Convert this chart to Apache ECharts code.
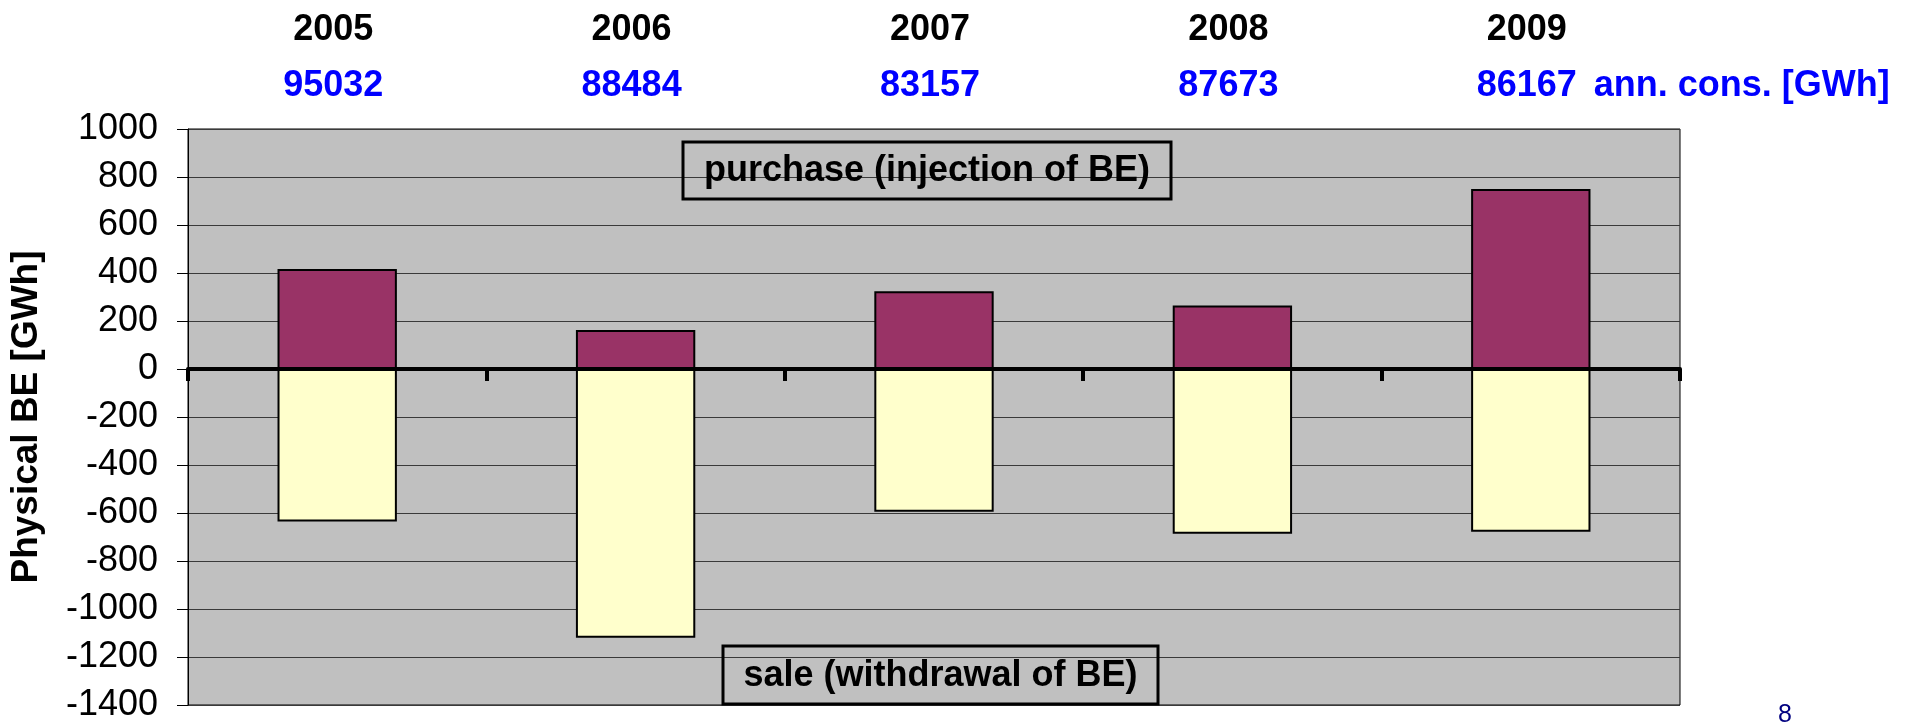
<!DOCTYPE html>
<html>
<head>
<meta charset="utf-8">
<title>Physical BE</title>
<script src="https://cdn.jsdelivr.net/npm/echarts@6.0.0/dist/echarts.min.js"></script>
<style>
  html, body { margin: 0; padding: 0; background: #ffffff; }
  #chart { width: 1919px; height: 723px; }
</style>
</head>
<body>
<div id="chart"></div>
<script>
// data
const years = ['2005', '2006', '2007', '2008', '2009'];
const annualCons = ['95032', '88484', '83157', '87673', '86167'];
const purchase = [417, 163, 324, 265, 750];
const sale = [-635, -1120, -595, -686, -678];
const yMin = -1400;
const yMax = 1000;
const yStep = 200;

const font = '"Liberation Sans", Arial, sans-serif';

let myChart = echarts.init(document.getElementById('chart'));

let option = {
  animation: false,
  grid: {
    left: 186,
    right: 239,
    top: 129,
    bottom: 14,
    show: true,
    backgroundColor: '#c0c0c0',
    borderColor: '#000000',
    borderWidth: 1
  },
  xAxis: {
    type: 'category',
    data: years,
    position: 'bottom',
    axisLine: {
      onZero: true,
      lineStyle: { color: '#000000', width: 4 }
    },
    axisTick: {
      show: true,
      alignWithLabel: false,
      length: 12,
      lineStyle: { color: '#000000', width: 4 }
    },
    axisLabel: { show: false },
    splitLine: { show: false }
  },
  yAxis: {
    type: 'value',
    min: yMin,
    max: yMax,
    interval: yStep,
    name: 'Physical BE [GWh]',
    nameLocation: 'middle',
    nameGap: 143,
    nameTextStyle: {
      color: '#000000',
      fontFamily: font,
      fontSize: 37,
      fontWeight: 'bold'
    },
    axisLine: { show: true, lineStyle: { color: '#000000', width: 1 } },
    axisTick: { show: true, length: 11, lineStyle: { color: '#000000', width: 1 } },
    axisLabel: {
      margin: 30,
      color: '#000000',
      fontFamily: font,
      fontSize: 36,
      formatter: v => String(v)
    },
    splitLine: {
      lineStyle: { color: '#3a3a3a', width: 1 }
    }
  },
  series: [
    {
      name: 'purchase',
      type: 'bar',
      stack: 'be',
      barWidth: '40%',
      itemStyle: { color: '#993366', borderColor: '#000000', borderWidth: 2 },
      data: purchase
    },
    {
      name: 'sale',
      type: 'bar',
      stack: 'be',
      barWidth: '40%',
      itemStyle: { color: '#ffffcc', borderColor: '#000000', borderWidth: 2 },
      data: sale
    }
  ]
};
myChart.setOption(option);

// year and annual consumption labels above the plot, placed on the category centres
let labels = [];
years.forEach((y, i) => {
  let x = myChart.convertToPixel({ xAxisIndex: 0 }, y) - 4;
  labels.push({
    type: 'text', x: x, y: 30,
    style: {
      text: y, fill: '#000000', fontFamily: font, fontSize: 36, fontWeight: 'bold',
      textAlign: 'center', textVerticalAlign: 'middle', align: 'center', verticalAlign: 'middle'
    }
  });
  labels.push({
    type: 'text', x: x, y: 86,
    style: {
      text: annualCons[i], fill: '#0000ff', fontFamily: font, fontSize: 36, fontWeight: 'bold',
      textAlign: 'center', textVerticalAlign: 'middle', align: 'center', verticalAlign: 'middle'
    }
  });
  if (i === years.length - 1) {
    labels.push({
      type: 'text', x: x + 67, y: 86,
      style: {
        text: 'ann. cons. [GWh]', fill: '#0000ff', fontFamily: font, fontSize: 36, fontWeight: 'bold',
        textAlign: 'left', textVerticalAlign: 'middle', align: 'left', verticalAlign: 'middle'
      }
    });
  }
});

// boxed notes inside the plot
function noteBox(text, x1, y1, x2, y2) {
  return [
    {
      type: 'rect',
      shape: { x: x1, y: y1, width: x2 - x1, height: y2 - y1 },
      style: { fill: 'transparent', stroke: '#000000', lineWidth: 3 },
      z: 10
    },
    {
      type: 'text', x: (x1 + x2) / 2, y: (y1 + y2) / 2 + 1,
      style: {
        text: text, fill: '#000000', fontFamily: font, fontSize: 36, fontWeight: 'bold',
        textAlign: 'center', textVerticalAlign: 'middle', align: 'center', verticalAlign: 'middle'
      },
      z: 10
    }
  ];
}
labels = labels.concat(noteBox('purchase (injection of BE)', 683, 142, 1171, 199));
labels = labels.concat(noteBox('sale (withdrawal of BE)', 723, 646, 1158, 704));

// page number, cut at the bottom edge
labels.push({
  type: 'text', x: 1785, y: 703,
  style: {
    text: '8', fill: '#000080', fontFamily: font, fontSize: 25,
    textAlign: 'center', textVerticalAlign: 'top', align: 'center', verticalAlign: 'top'
  }
});

myChart.setOption({ graphic: labels });
window.onresize = () => myChart.resize();
</script>
</body>
</html>
